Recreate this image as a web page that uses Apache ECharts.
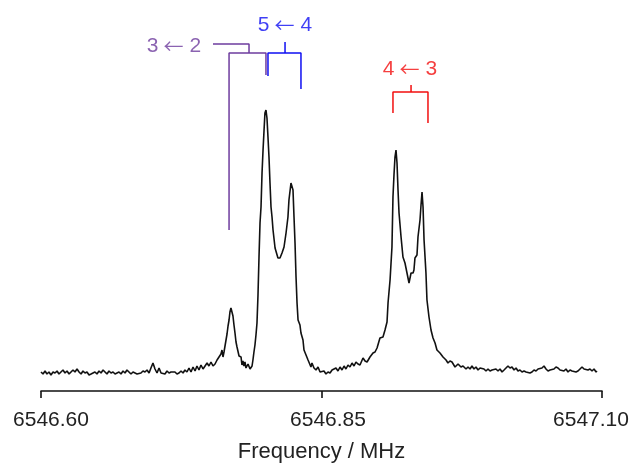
<!DOCTYPE html>
<html>
<head>
<meta charset="utf-8">
<script src="https://cdn.jsdelivr.net/npm/echarts@6/dist/echarts.min.js"></script>
<style>
html,body{margin:0;padding:0;background:#fff;}
#c{width:635px;height:463px;}
</style>
</head>
<body>
<div id="c"></div>
<script>
// Spectrum: [frequency (MHz), intensity (arb. units)]
const spectrum = [
[6546.6000,1],[6546.6018,-1],[6546.6036,2],[6546.6053,-1],[6546.6071,1],[6546.6089,-2],[6546.6107,1],[6546.6125,0],
[6546.6143,2],[6546.6160,-1],[6546.6178,1],[6546.6196,3],[6546.6214,0],[6546.6232,2],[6546.6250,-1],[6546.6267,0],
[6546.6285,3],[6546.6303,1],[6546.6321,4],[6546.6339,1],[6546.6357,-1],[6546.6374,2],[6546.6392,0],[6546.6410,1],
[6546.6428,-2],[6546.6446,-1],[6546.6463,-2],[6546.6481,1],[6546.6499,-1],[6546.6517,2],[6546.6535,0],[6546.6553,3],
[6546.6570,1],[6546.6588,-1],[6546.6606,2],[6546.6624,0],[6546.6642,1],[6546.6660,-1],[6546.6677,0],[6546.6695,1],
[6546.6713,-1],[6546.6731,2],[6546.6749,0],[6546.6766,3],[6546.6784,1],[6546.6802,-1],[6546.6820,1],[6546.6838,0],
[6546.6856,-1],[6546.6873,1],[6546.6891,0],[6546.6909,2],[6546.6927,1],[6546.6945,3],[6546.6963,0],[6546.6980,5],
[6546.6998,10],[6546.7016,4],[6546.7034,0],[6546.7052,5],[6546.7070,0],[6546.7087,2],[6546.7105,-1],[6546.7123,2],
[6546.7141,0],[6546.7159,1],[6546.7176,-1],[6546.7194,1],[6546.7212,-1],[6546.7230,0],[6546.7248,2],[6546.7266,0],
[6546.7283,3],[6546.7301,1],[6546.7319,5],[6546.7337,1],[6546.7355,6],[6546.7373,2],[6546.7390,7],[6546.7408,3],
[6546.7426,8],[6546.7444,4],[6546.7462,7],[6546.7480,10],[6546.7497,7],[6546.7515,11],[6546.7533,7],[6546.7551,9],
[6546.7569,13],[6546.7586,11],[6546.7604,19],[6546.7613,23],[6546.7622,16],[6546.7631,21],[6546.7640,27],[6546.7649,33],
[6546.7658,39],[6546.7667,47],[6546.7676,53],[6546.7684,61],[6546.7693,65],[6546.7702,63],[6546.7711,57],[6546.7720,48],
[6546.7729,40],[6546.7738,31],[6546.7747,26],[6546.7756,25],[6546.7765,17],[6546.7774,15],[6546.7783,16],[6546.7791,8],
[6546.7800,12],[6546.7809,7],[6546.7818,11],[6546.7827,5],[6546.7836,3],[6546.7845,9],[6546.7854,11],[6546.7863,4],
[6546.7872,3],[6546.7881,7],[6546.7889,13],[6546.7898,21],[6546.7907,28],[6546.7916,38],[6546.7925,50],[6546.7934,78],
[6546.7943,116],[6546.7952,150],[6546.7961,166],[6546.7970,200],[6546.7979,223],[6546.7988,243],[6546.7996,260],[6546.8005,263],
[6546.8014,255],[6546.8023,236],[6546.8032,216],[6546.8041,190],[6546.8050,166],[6546.8059,156],[6546.8068,143],[6546.8086,125],
[6546.8103,123],[6546.8112,115],[6546.8130,115],[6546.8148,120],[6546.8166,126],[6546.8184,140],[6546.8201,156],[6546.8210,173],
[6546.8228,190],[6546.8237,192],[6546.8246,183],[6546.8255,156],[6546.8264,130],[6546.8273,96],[6546.8282,70],[6546.8291,53],
[6546.8308,48],[6546.8317,40],[6546.8335,33],[6546.8344,23],[6546.8362,18],[6546.8371,16],[6546.8380,13],[6546.8389,11],
[6546.8406,6],[6546.8415,10],[6546.8433,5],[6546.8451,3],[6546.8469,6],[6546.8487,1],[6546.8504,-1],[6546.8522,2],
[6546.8540,-1],[6546.8558,1],[6546.8576,0],[6546.8594,3],[6546.8611,1],[6546.8629,5],[6546.8647,2],[6546.8665,6],
[6546.8683,3],[6546.8701,7],[6546.8718,4],[6546.8736,8],[6546.8754,6],[6546.8772,10],[6546.8790,7],[6546.8807,11],
[6546.8825,9],[6546.8843,8],[6546.8870,15],[6546.8888,12],[6546.8906,11],[6546.8932,16],[6546.8959,20],[6546.8977,21],
[6546.8995,25],[6546.9021,35],[6546.9048,36],[6546.9066,43],[6546.9084,51],[6546.9093,70],[6546.9111,93],[6546.9128,126],
[6546.9137,176],[6546.9146,198],[6546.9155,216],[6546.9164,223],[6546.9173,210],[6546.9182,183],[6546.9191,160],[6546.9209,136],
[6546.9226,116],[6546.9244,110],[6546.9262,100],[6546.9280,90],[6546.9298,100],[6546.9316,100],[6546.9324,103],[6546.9333,115],
[6546.9351,118],[6546.9360,136],[6546.9378,153],[6546.9387,168],[6546.9396,181],[6546.9405,166],[6546.9414,133],[6546.9431,100],
[6546.9440,73],[6546.9458,56],[6546.9476,43],[6546.9494,35],[6546.9512,30],[6546.9529,23],[6546.9556,20],[6546.9583,16],
[6546.9610,13],[6546.9627,10],[6546.9645,12],[6546.9663,11],[6546.9690,6],[6546.9717,9],[6546.9743,6],[6546.9761,7],
[6546.9788,4],[6546.9806,6],[6546.9824,4],[6546.9841,7],[6546.9859,4],[6546.9877,6],[6546.9895,3],[6546.9913,5],
[6546.9930,3],[6546.9948,4],[6546.9966,2],[6546.9984,4],[6547.0002,2],[6547.0020,3],[6547.0037,1],[6547.0055,4],
[6547.0073,2],[6547.0091,4],[6547.0109,1],[6547.0127,3],[6547.0144,4],[6547.0162,7],[6547.0180,5],[6547.0198,6],
[6547.0216,3],[6547.0234,5],[6547.0251,2],[6547.0269,3],[6547.0287,1],[6547.0305,2],[6547.0323,1],[6547.0340,2],
[6547.0358,0],[6547.0376,1],[6547.0394,3],[6547.0412,2],[6547.0430,4],[6547.0447,3],[6547.0465,5],[6547.0483,7],
[6547.0501,4],[6547.0519,2],[6547.0537,3],[6547.0554,2],[6547.0572,4],[6547.0590,6],[6547.0608,5],[6547.0626,3],
[6547.0643,4],[6547.0661,2],[6547.0679,4],[6547.0697,1],[6547.0715,3],[6547.0733,2],[6547.0750,3],[6547.0768,1],
[6547.0786,2],[6547.0804,4],[6547.0822,6],[6547.0840,4],[6547.0857,5],[6547.0875,3],[6547.0893,4],[6547.0911,2],
[6547.0929,4],[6547.0947,1],[6547.0955,2]
];

// Tick values on the frequency axis
const tickValues = [6546.60, 6546.85, 6547.10];

// Assignment brackets (frequency, intensity) - '-' breaks the polyline
const bracket32 = [[6546.7533,329],[6546.7854,329],[6546.7854,320],['-','-'],
                   [6546.7676,143],[6546.7676,320],[6546.8005,320],[6546.8005,298]];
const bracket54 = [[6546.8175,331],[6546.8175,320],['-','-'],
                   [6546.8023,297],[6546.8023,320],[6546.8317,320],[6546.8317,284]];
const bracket43 = [[6546.9298,288],[6546.9298,281],['-','-'],
                   [6546.9137,260],[6546.9137,281],[6546.9449,281],[6546.9449,250]];

// Assignment labels: [upper J, lower J]
const labelJ = [['3','2'], ['5','4'], ['4','3']];
const labelPos = [[6546.7185,327],[6546.8175,348],[6546.9289,304]];
const labelColor = ['#6e3c9e', '#0f0ff2', '#f20f0f'];

const FONT = '"Liberation Sans", Arial, sans-serif';
const chart = echarts.init(document.getElementById('c'), null, {renderer:'canvas'});

function bracketSeries(data, color){
  return {type:'line', data:data, showSymbol:false, symbol:'none', connectNulls:false,
    lineStyle:{color:color, width:1.5}, silent:true, z:3, animation:false};
}

const labelSeries = labelJ.map((j,i)=>({
  type:'scatter', symbolSize:0, silent:true, animation:false, z:4,
  data:[labelPos[i]],
  label:{show:true, position:'inside',
    formatter:'{n|'+j[0]+'}{a|\u2190}{n|'+j[1]+'}',
    rich:{
      n:{fontSize:21, color:labelColor[i], fontFamily:FONT},
      a:{fontSize:20, color:labelColor[i], fontFamily:'"Noto Sans CJK JP", "DejaVu Sans", sans-serif', padding:[0,6,0,5]}
    }
  }
}));

chart.setOption({
  backgroundColor:'#fff',
  animation:false,
  grid:{left:41, right:33, top:0, bottom:72, containLabel:false, outerBoundsMode:'none'},
  xAxis:{
    type:'value', min:6546.60, max:6547.10,
    name:'Frequency / MHz', nameLocation:'middle', nameGap:50,
    nameTextStyle:{fontSize:22, color:'#222', fontFamily:FONT},
    axisLine:{show:true, onZero:false, lineStyle:{color:'#111', width:1.6}},
    axisTick:{show:true, inside:false, length:7, customValues:tickValues, lineStyle:{color:'#111', width:1.6}},
    axisLabel:{show:true, customValues:tickValues, margin:19, fontSize:21, color:'#222', fontFamily:FONT,
      formatter:function(v){
        const s = Number(v).toFixed(2);
        if (Math.abs(v-tickValues[0])<1e-6) return '{l|'+s+'}';
        if (Math.abs(v-tickValues[2])<1e-6) return '{r|'+s+'}';
        return '{m|'+s+'}';
      },
      rich:{
        l:{fontSize:21, color:'#222', fontFamily:FONT, padding:[0,0,0,20]},
        m:{fontSize:21, color:'#222', fontFamily:FONT, padding:[0,0,0,13]},
        r:{fontSize:21, color:'#222', fontFamily:FONT, padding:[0,22,0,0]}
      }
    },
    splitLine:{show:false}
  },
  yAxis:{
    type:'value', min:-18, max:373, show:false, splitLine:{show:false}
  },
  series:[
    {type:'line', data:spectrum, showSymbol:false, symbol:'none',
     lineStyle:{color:'#111', width:1.6}, silent:true, z:2, animation:false},
    bracketSeries(bracket32, labelColor[0]),
    bracketSeries(bracket54, labelColor[1]),
    bracketSeries(bracket43, labelColor[2])
  ].concat(labelSeries)
});
</script>
</body>
</html>
